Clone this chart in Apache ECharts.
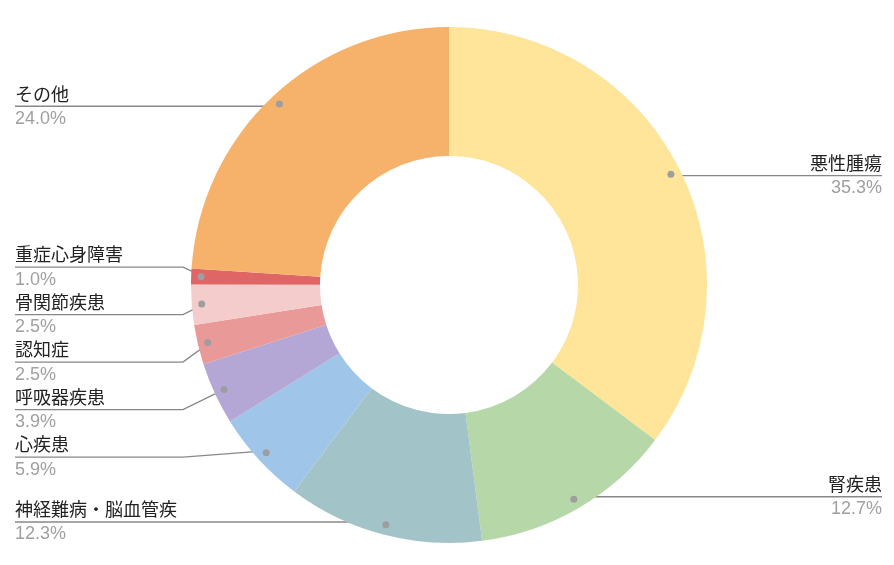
<!DOCTYPE html>
<html lang="ja">
<head>
<meta charset="UTF-8">
<title>疾患別割合</title>
<script src="https://cdn.jsdelivr.net/npm/echarts@6/dist/echarts.min.js"></script>
<style>
  html, body { margin: 0; padding: 0; background: #fff; }
  #chart { width: 894px; height: 565px; }
</style>
</head>
<body>
<div id="chart"></div>
<script>
var categories = ['悪性腫瘍', '腎疾患', '神経難病・脳血管疾', '心疾患', '呼吸器疾患', '認知症', '骨関節疾患', '重症心身障害', 'その他'];
var shares = [35.3, 12.7, 12.3, 5.9, 3.9, 2.5, 2.5, 1.0, 24.0];
var colors = ['#FFE599', '#B6D7A8', '#A2C4C9', '#9FC5E8', '#B4A7D6', '#EA9999', '#F4CCCC', '#E06666', '#F6B26B'];

var cx = 449, cy = 285, rIn = 129, rOut = 258;
var dotR = 245;   // where the leader lines start
var rowH = 47.5;  // height of one label block

// dot of each slice, mid angle, clockwise from 12 o'clock
var total = shares.reduce(function (a, b) { return a + b; }, 0);
var dots = [];
var acc = 0;
shares.forEach(function (v) {
    var a = (acc + v / 2) / total * Math.PI * 2;
    dots.push([cx + dotR * Math.sin(a), cy - dotR * Math.cos(a)]);
    acc += v;
});

// label rows start at dot height, get pushed apart, crowded groups pulled back up by half
var rowY = dots.map(function (d) { return d[1]; });
[true, false].forEach(function (left) {
    var idx = [];
    dots.forEach(function (d, i) { if ((d[0] < cx) === left) idx.push(i); });
    idx.sort(function (a, b) { return dots[a][1] - dots[b][1]; });
    var groups = [];
    idx.forEach(function (i, k) {
        var prev = idx[k - 1];
        if (k > 0 && rowY[i] < rowY[prev] + rowH) {
            rowY[i] = rowY[prev] + rowH;
            groups[groups.length - 1].push(i);
        } else {
            groups.push([i]);
        }
    });
    groups.forEach(function (g) {
        if (g.length < 2) return;
        var s = 0;
        g.forEach(function (i) { s += rowY[i] - dots[i][1]; });
        var back = s / g.length / 2;
        g.forEach(function (i) { rowY[i] -= back; });
    });
});

var chart = echarts.init(document.getElementById('chart'));

chart.setOption({
    animation: false,
    series: [
        {
            type: 'pie',
            center: [cx, cy],
            radius: [rIn, rOut],
            startAngle: 90,
            clockwise: true,
            silent: true,
            avoidLabelOverlap: true,
            itemStyle: { borderWidth: 0 },
            data: categories.map(function (name, i) {
                return {
                    name: name,
                    value: shares[i],
                    itemStyle: { color: colors[i] },
                    label: { edgeDistance: dots[i][0] < cx ? 15 : 12 }
                };
            }),
            label: {
                show: true,
                alignTo: 'edge',
                overflow: 'none',
                formatter: function (p) {
                    return '{n|' + p.name + '}\n{p|' + p.value.toFixed(1) + '%}';
                },
                rich: {
                    n: { fontFamily: 'Noto Sans CJK JP', fontSize: 18, color: '#222', lineHeight: 25 },
                    p: { fontFamily: 'Liberation Sans', fontSize: 18, color: '#a0a0a0', lineHeight: 25 }
                }
            },
            labelLine: {
                show: true,
                length: 10,
                length2: 10,
                lineStyle: { color: '#888', width: 1.4 }
            },
            labelLayout: function (params) {
                var i = params.dataIndex;
                var left = dots[i][0] < cx;
                var r = params.labelRect;
                var y = rowY[i];
                return {
                    y: y,
                    verticalAlign: 'middle',
                    labelLinePoints: [
                        [dots[i][0], dots[i][1]],
                        [left ? cx - rOut - 8 : cx + rOut + 8, y],
                        [left ? r.x : r.x + r.width, y]
                    ]
                };
            }
        },
        {
            // grey dots at the start of each leader line
            type: 'pie',
            center: [cx, cy],
            radius: [dotR - 6, dotR + 6],
            startAngle: 90,
            clockwise: true,
            silent: true,
            z: 5,
            itemStyle: { color: 'rgba(0,0,0,0)', borderWidth: 0 },
            label: {
                show: true,
                position: 'inside',
                formatter: '{d| }',
                rich: {
                    d: { width: 7, height: 7, borderRadius: 3.5, backgroundColor: '#9e9e9e' }
                }
            },
            labelLine: { show: false },
            data: categories.map(function (name, i) {
                return { name: name, value: shares[i] };
            })
        }
    ]
});
</script>
</body>
</html>
